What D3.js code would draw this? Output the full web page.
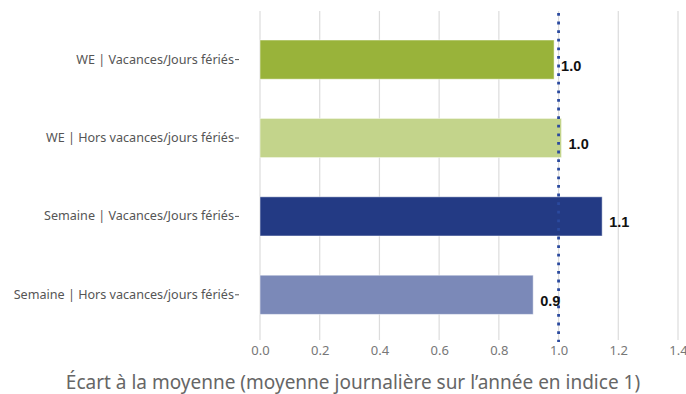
<!DOCTYPE html>
<html>
<head>
<meta charset="utf-8">
<script src="https://cdn.jsdelivr.net/npm/d3@7"></script>
<style>
  html, body { margin: 0; padding: 0; background: #fff; }
  svg { display: block; }
</style>
</head>
<body>
<svg id="chart" width="686" height="394"></svg>
<script>
// Daily average gap by day type (yearly daily mean = index 1)
const categories = [
  "WE | Vacances/Jours fériés",
  "WE | Hors vacances/jours fériés",
  "Semaine | Vacances/Jours fériés",
  "Semaine | Hors vacances/jours fériés"
];
const values = [0.985, 1.01, 1.146, 0.915];
const valueLabels = ["1.0", "1.0", "1.1", "0.9"];
const colors = ["#99b33a", "#c3d48b", "#233a84", "#7b89b8"];
const xTicks = [0, 0.2, 0.4, 0.6, 0.8, 1.0, 1.2, 1.4];
const referenceValue = 1.0;
const axisTitle = "Écart à la moyenne (moyenne journalière sur l’année en indice 1)";

const svg = d3.select("#chart");
const width = 686, height = 394;
const plotTop = 11, plotBottom = 340, plotLeft = 260;

const x = d3.scaleLinear().domain([0, 1.4]).range([plotLeft, 678]);
const y = d3.scaleBand().domain(categories)
  .range([20.4, 334])
  .paddingInner(0.5).paddingOuter(0.25);

// vertical grid
svg.append("g").selectAll("line").data(xTicks).join("line")
  .attr("x1", d => x(d)).attr("x2", d => x(d))
  .attr("y1", plotTop).attr("y2", plotBottom)
  .attr("stroke", "#dcdcdc").attr("stroke-width", 1.2);

// bars
svg.append("g").selectAll("rect").data(categories).join("rect")
  .attr("x", x(0))
  .attr("y", d => y(d))
  .attr("width", (d, i) => x(values[i]) - x(0))
  .attr("height", y.bandwidth())
  .attr("fill", (d, i) => colors[i])
  .attr("stroke", "rgba(255,255,255,0.5)")
  .attr("stroke-width", 1);

// reference line at index 1
svg.append("line")
  .attr("x1", x(referenceValue)).attr("x2", x(referenceValue))
  .attr("y1", plotTop + 2).attr("y2", plotBottom + 2)
  .attr("stroke", "#2b4a9e").attr("stroke-width", 2.8)
  .attr("stroke-dasharray", "2.8 5.8");

// value labels
svg.append("g").selectAll("text").data(categories).join("text")
  .attr("x", (d, i) => x(values[i]) + 7)
  .attr("y", d => y(d) + y.bandwidth() / 2 + 11)
  .attr("font-family", "Liberation Sans, Arial, sans-serif")
  .attr("font-weight", "bold").attr("font-size", 14.5)
  .attr("fill", "#111")
  .text((d, i) => valueLabels[i]);

// y axis labels
const yAxis = d3.axisLeft(y).tickSize(0).tickPadding(0);
const gy = svg.append("g").attr("transform", `translate(${plotLeft - 20},0)`).call(yAxis);
gy.select(".domain").remove();
gy.selectAll(".tick line").remove();
gy.selectAll(".tick").append("line")
  .attr("x1", -5).attr("x2", -1).attr("stroke", "#555").attr("stroke-width", 1);
gy.selectAll(".tick text")
  .attr("x", -6)
  .attr("font-family", "Noto Sans, sans-serif").attr("font-size", 12.6)
  .attr("fill", "#555");

// x axis labels
const xAxis = d3.axisBottom(x).tickValues(xTicks).tickFormat(d3.format(".1f")).tickSize(0).tickPadding(6);
const gx = svg.append("g").attr("transform", `translate(0,${plotBottom})`).call(xAxis);
gx.select(".domain").remove();
gx.selectAll(".tick text")
  .attr("font-family", "Noto Sans, sans-serif").attr("font-size", 13)
  .attr("fill", "#777");

// axis title
svg.append("text")
  .attr("x", 353).attr("y", 389)
  .attr("text-anchor", "middle")
  .attr("font-family", "Noto Sans, sans-serif").attr("font-size", 19)
  .attr("fill", "#666")
  .text(axisTitle);
</script>
</body>
</html>
